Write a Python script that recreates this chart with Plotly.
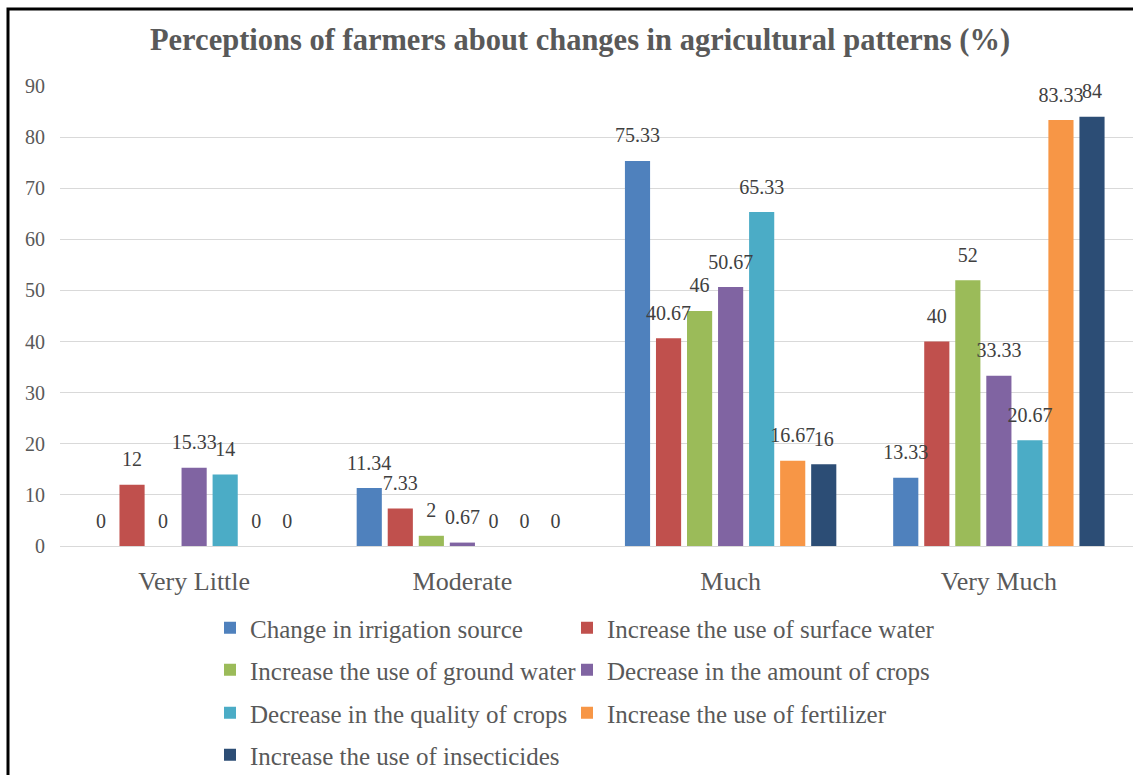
import plotly.graph_objects as go

categories = ["Very Little", "Moderate", "Much", "Very Much"]
series_names = [
    "Change in irrigation source",
    "Increase the use of surface water",
    "Increase the use of ground water",
    "Decrease in the amount of crops",
    "Decrease in the quality of crops",
    "Increase the use of fertilizer",
    "Increase the use of insecticides",
]
irrigation_source = [0, 11.34, 75.33, 13.33]
surface_water = [12, 7.33, 40.67, 40]
ground_water = [0, 2, 46, 52]
amount_crops = [15.33, 0.67, 50.67, 33.33]
quality_crops = [14, 0, 65.33, 20.67]
fertilizer = [0, 0, 16.67, 83.33]
insecticides = [0, 0, 16, 84]
series_values = [irrigation_source, surface_water, ground_water, amount_crops,
                 quality_crops, fertilizer, insecticides]
colors = ["#4F81BD", "#C0504D", "#9BBB59", "#8064A2", "#4BACC6", "#F79646", "#2C4D75"]
y_ticks = [0, 10, 20, 30, 40, 50, 60, 70, 80, 90]

SERIF = "Liberation Serif, Times New Roman, serif"

fig = go.Figure()
for i, (name, vals) in enumerate(zip(series_names, series_values)):
    fig.add_trace(go.Bar(
        x=categories, y=vals, name=name, marker_color=colors[i],
        marker_line_width=0, legend="legend" if i == 0 else f"legend{i + 1}",
        offsetgroup=str(i), hoverinfo="skip",
    ))
for i, vals in enumerate(series_values):
    fig.add_trace(go.Scatter(
        x=categories, y=vals, mode="markers+text", offsetgroup=str(i),
        text=[f"{v:g}" for v in vals], textposition="top center",
        textfont=dict(family=SERIF, size=20, color="#404040"),
        marker=dict(size=20, opacity=0), showlegend=False, hoverinfo="skip",
        cliponaxis=False,
    ))

plot_l, plot_r, plot_t, plot_b = 60, 0, 86, 229
H = 775
ph = H - plot_t - plot_b
pw = 1133 - plot_l - plot_r

def py(pix):
    return (H - plot_b - pix) / ph

def px(pix):
    return (pix - plot_l) / pw

legend_common = dict(
    orientation="h", xanchor="left", yanchor="middle",
    font=dict(family=SERIF, size=25, color="#595959"),
    bgcolor="rgba(0,0,0,0)", itemclick=False, itemdoubleclick=False,
)
col_x = [px(210), px(567)]
row_y = [py(628), py(670), py(713), py(755)]
legends = {}
for i in range(len(series_names)):
    key = "legend" if i == 0 else f"legend{i + 1}"
    legends[key] = dict(x=col_x[i % 2], y=row_y[i // 2], **legend_common)

fig.update_layout(
    width=1133, height=775,
    margin=dict(l=plot_l, r=plot_r, t=plot_t, b=plot_b, autoexpand=False),
    paper_bgcolor="white", plot_bgcolor="white",
    barmode="group", bargap=0.19, bargroupgap=0.19,
    scattermode="group", scattergap=0.19,
    title=dict(
        text="<b>Perceptions of farmers about changes in agricultural patterns (%)</b>",
        x=px(580), xref="paper", xanchor="center", y=1 - 39 / H, yanchor="middle",
        font=dict(family=SERIF, size=30.5, color="#595959"),
    ),
    xaxis=dict(
        showgrid=False, showline=True, linecolor="#d9d9d9", linewidth=1,
        tickfont=dict(family=SERIF, size=26, color="#595959"),
        ticks="", ticklabelstandoff=12,
    ),
    yaxis=dict(
        range=[0, 90], tickvals=y_ticks, showgrid=True, gridcolor="#d9d9d9",
        gridwidth=1, zeroline=True, zerolinecolor="#d9d9d9", zerolinewidth=1,
        showline=False, ticks="", ticklabelstandoff=14,
        tickfont=dict(family=SERIF, size=20, color="#595959"),
    ),
    showlegend=True,
    shapes=[dict(type="rect", xref="paper", yref="paper",
                 x0=px(8), x1=px(1140), y0=py(9), y1=py(790),
                 line=dict(color="black", width=3), fillcolor="rgba(0,0,0,0)",
                 layer="above")],
    **legends,
)

fig.write_html("out.html")
